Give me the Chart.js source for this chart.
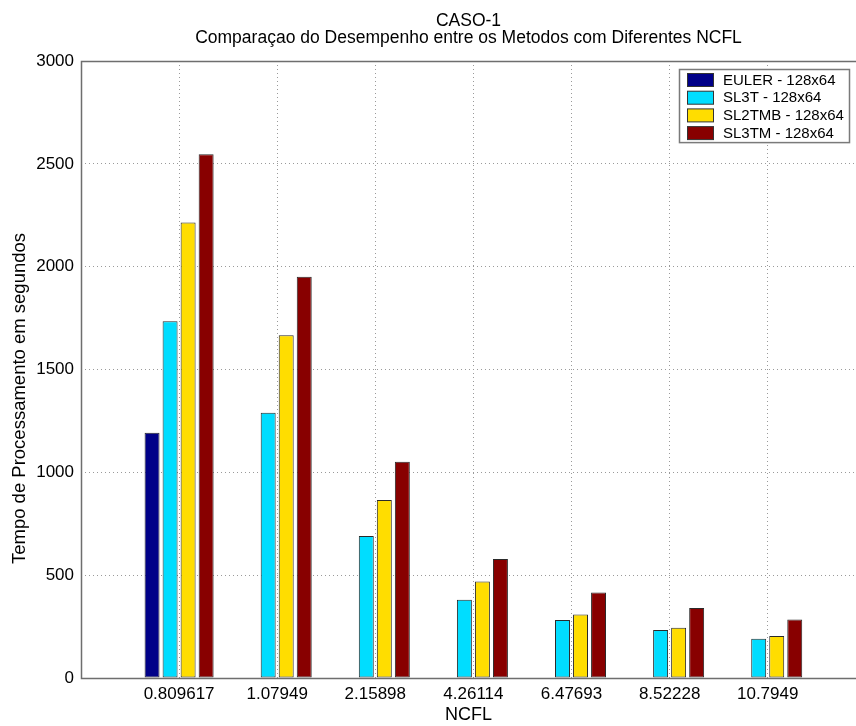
<!DOCTYPE html>
<html>
<head>
<meta charset="utf-8">
<script src="https://cdn.jsdelivr.net/npm/chart.js@4/dist/chart.umd.min.js"></script>
<style>
  html, body { margin: 0; padding: 0; background: #ffffff; }
  #wrap { width: 856px; height: 726px; }
</style>
</head>
<body>
<div id="wrap"><canvas id="c" width="856" height="726"></canvas></div>
<script>
// NCFL values (category labels along the x axis)
const ncfl = ['0.809617', '1.07949', '2.15898', '4.26114', '6.47693', '8.52228', '10.7949'];

// Processing time in seconds for each method, one entry per NCFL value
const euler  = [1193, null, null, null, null, null, null];
const sl3t   = [1735, 1290, 690, 380, 282, 233, 191];
const sl2tmb = [2215, 1666, 865, 469, 309, 244, 204];
const sl3tm  = [2547, 1951, 1052, 578, 416, 340, 285];

const seriesNames = ['EULER - 128x64', 'SL3T - 128x64', 'SL2TMB - 128x64', 'SL3TM - 128x64'];
const yTicks = [0, 500, 1000, 1500, 2000, 2500, 3000];

const titleLines = ['CASO-1', 'Comparaçao do Desempenho entre os Metodos com Diferentes NCFL'];
const yLabel = 'Tempo de Processamento em segundos';

const FONT = '"Liberation Sans", Arial, Helvetica, sans-serif';
const colors = ['#000088', '#00DDFF', '#FFDD00', '#880000'];

// bars sit at positions 1..N on a linear x axis
const toPoints = arr => arr.map((v, i) => ({ x: i + 1, y: v }));

const datasets = [euler, sl3t, sl2tmb, sl3tm].map((arr, k) => ({
  label: seriesNames[k],
  data: toPoints(arr),
  backgroundColor: colors[k],
  borderColor: '#2a2a2a',
  borderWidth: 1,
  borderSkipped: false,
  categoryPercentage: 0.735,
  barPercentage: 0.83
}));

// axes frame (left, bottom, top) drawn solid over the dotted grid
const framePlugin = {
  id: 'frame',
  afterDatasetsDraw(chart) {
    const { ctx, chartArea: a } = chart;
    ctx.save();
    ctx.strokeStyle = '#6e6e6e';
    ctx.lineWidth = 1.5;
    ctx.beginPath();
    ctx.moveTo(a.right + 2, a.top + 0.5);
    ctx.lineTo(a.left + 0.5, a.top + 0.5);
    ctx.lineTo(a.left + 0.5, a.bottom + 0.5);
    ctx.lineTo(a.right + 2, a.bottom + 0.5);
    ctx.stroke();
    ctx.restore();
  }
};

// two-line title centred over the plot, and the vertical axis label
const titlesPlugin = {
  id: 'titles',
  afterDraw(chart) {
    const { ctx, chartArea: a } = chart;
    const cx = (a.left + a.right) / 2;
    ctx.save();
    ctx.fillStyle = '#000000';
    ctx.textAlign = 'center';
    ctx.textBaseline = 'middle';
    ctx.font = '17.5px ' + FONT;
    ctx.fillText(titleLines[0], cx, a.top - 40);
    ctx.fillText(titleLines[1], cx, a.top - 23);
    ctx.translate(20, a.top + (a.bottom - a.top) / 2 + 29);
    ctx.rotate(-Math.PI / 2);
    ctx.font = '18.5px ' + FONT;
    ctx.fillText(yLabel, 0, 0);
    ctx.restore();
  }
};

// boxed legend in the upper-right corner of the plot
const boxLegend = {
  id: 'boxLegend',
  afterDraw(chart) {
    const { ctx, chartArea: a } = chart;
    const ds = chart.data.datasets;
    const w = 170, rowH = 17.7;
    const h = 11 + rowH * (ds.length - 1) + 9;
    const x = a.right - 7 - w, y = a.top + 8;
    ctx.save();
    ctx.fillStyle = '#ffffff';
    ctx.fillRect(x, y, w, h);
    ctx.strokeStyle = '#7a7a7a';
    ctx.lineWidth = 1.5;
    ctx.strokeRect(x + 0.5, y + 0.5, w, h);
    ctx.font = '15px ' + FONT;
    ctx.textBaseline = 'middle';
    ds.forEach((d, i) => {
      const cy = y + 11 + rowH * i;
      ctx.fillStyle = d.backgroundColor;
      ctx.fillRect(x + 8, cy - 6.5, 27, 13);
      ctx.strokeStyle = '#333333';
      ctx.lineWidth = 1;
      ctx.strokeRect(x + 8.5, cy - 6.5, 26, 13);
      ctx.fillStyle = '#000000';
      ctx.fillText(d.label, x + 44, cy + 0.5);
    });
    ctx.restore();
  }
};

new Chart(document.getElementById('c'), {
  type: 'bar',
  data: { datasets },
  options: {
    responsive: false,
    animation: false,
    layout: { padding: { left: 0, right: 0, top: 61, bottom: 0 } },
    plugins: {
      legend: { display: false },
      tooltip: { enabled: false },
      title: { display: false }
    },
    scales: {
      x: {
        type: 'linear',
        min: 0,
        max: 7.9,
        offset: false,
        afterBuildTicks(scale) {
          scale.ticks = ncfl.map((_, i) => ({ value: i + 1 }));
        },
        afterFit(scale) { scale.height = 48; },
        ticks: {
          callback: (v) => ncfl[v - 1] ?? '',
          color: '#000000',
          font: { family: FONT, size: 17 },
          padding: 6,
          maxRotation: 0,
          autoSkip: false
        },
        grid: { color: '#9a9a9a', lineWidth: 1, drawTicks: false, offset: false },
        border: { display: false, dash: [1, 3] },
        title: {
          display: true,
          text: 'NCFL',
          color: '#000000',
          font: { family: FONT, size: 18 },
          padding: { top: 0, bottom: 0 }
        }
      },
      y: {
        min: 0,
        max: 3000,
        afterBuildTicks(scale) {
          scale.ticks = yTicks.map(v => ({ value: v }));
        },
        afterFit(scale) { scale.width = 81; },
        ticks: {
          callback: (v) => String(v),
          color: '#000000',
          font: { family: FONT, size: 17 },
          padding: 7
        },
        grid: { color: '#9a9a9a', lineWidth: 1, drawTicks: false },
        border: { display: false, dash: [1, 3] }
      }
    }
  },
  plugins: [framePlugin, titlesPlugin, boxLegend]
});
</script>
</body>
</html>
